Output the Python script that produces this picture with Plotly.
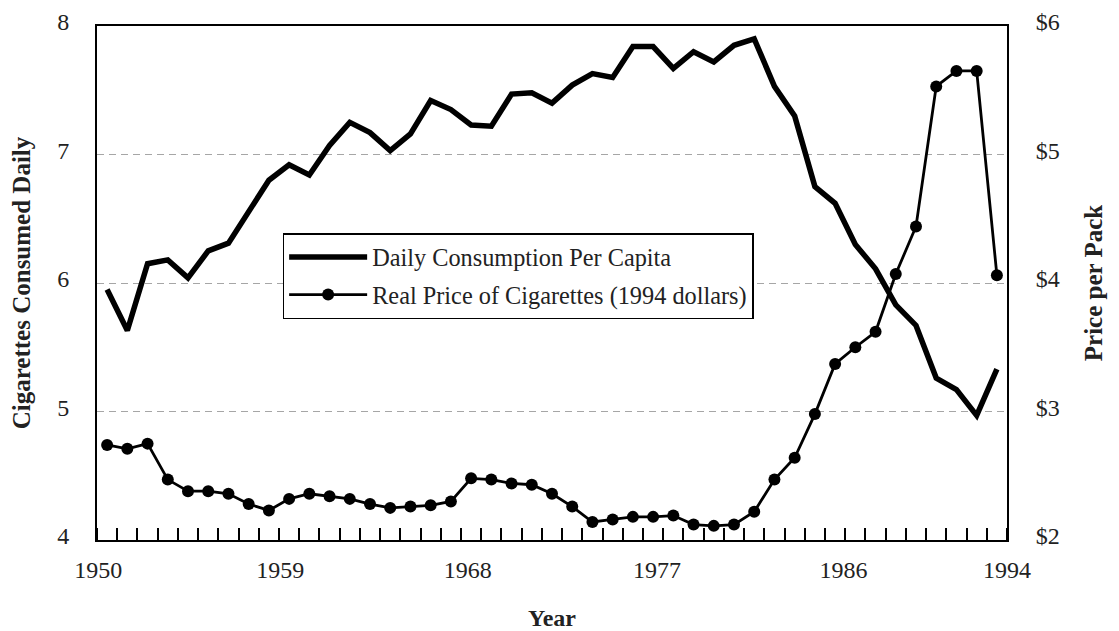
import plotly.graph_objects as go

years = list(range(1950, 1995))

consumption = [5.95, 5.63, 6.15, 6.18, 6.04, 6.25, 6.31, 6.56, 6.80, 6.92,
               6.84, 7.07, 7.25, 7.17, 7.03, 7.16, 7.42, 7.35, 7.23, 7.22,
               7.47, 7.48, 7.40, 7.54, 7.63, 7.60, 7.84, 7.84, 7.67, 7.80,
               7.72, 7.85, 7.90, 7.53, 7.30, 6.75, 6.62, 6.30, 6.11, 5.83,
               5.67, 5.26, 5.17, 4.97, 5.33]

price = [2.74, 2.71, 2.75, 2.47, 2.38, 2.38, 2.36, 2.28, 2.23, 2.32,
         2.36, 2.34, 2.32, 2.28, 2.25, 2.26, 2.27, 2.30, 2.48, 2.47,
         2.44, 2.43, 2.36, 2.26, 2.14, 2.16, 2.18, 2.18, 2.19, 2.12,
         2.11, 2.12, 2.22, 2.47, 2.64, 2.98, 3.37, 3.50, 3.62, 4.07,
         4.44, 5.53, 5.65, 5.65, 4.06]

x_tick_labels = ["1950", "1959", "1968", "1977", "1986", "1994"]
x_tick_pos = [1949.56, 1958.56, 1967.83, 1977.19, 1986.42, 1994.5]

left_ticks = [4, 5, 6, 7, 8]
right_ticks = [2, 3, 4, 5, 6]

FONT = "Liberation Serif, Times New Roman, serif"
TXT = "#222222"

fig = go.Figure()
fig.add_trace(go.Scatter(
    x=years, y=consumption, mode="lines",
    name="Daily Consumption Per Capita",
    line=dict(color="black", width=5.5),
    legendgroup="a", yaxis="y",
))
fig.add_trace(go.Scatter(
    x=years, y=price, mode="lines+markers",
    name="Real Price of Cigarettes (1994 dollars)",
    line=dict(color="black", width=2.8),
    marker=dict(color="black", size=12),
    legendgroup="b", yaxis="y2",
))

# the page body has an 8px margin, so the figure is offset to compensate
fig.update_layout(
    template="none",
    width=1111, height=623,
    margin=dict(l=89, r=112, t=18, b=91, autoexpand=False),
    paper_bgcolor="white", plot_bgcolor="white",
    font=dict(family=FONT, size=24, color=TXT),
    showlegend=True,
    legend=dict(
        x=0.204, y=0.597, xanchor="left", yanchor="top",
        bgcolor="white", bordercolor="black", borderwidth=1.5,
        font=dict(family=FONT, size=24.3, color=TXT),
        traceorder="grouped", tracegroupgap=3, itemwidth=78,
    ),
    xaxis=dict(
        range=[1949.5, 1994.5], automargin=False,
        tickmode="array", tickvals=x_tick_pos, ticktext=x_tick_labels,
        ticks="", ticklabelstandoff=7, ticklabeloverflow="allow",
        showgrid=False, zeroline=False,
        showline=True, linecolor="black", linewidth=2, mirror=True,
        minor=dict(ticks="inside", ticklen=12, tickwidth=2, tickcolor="black",
                   tickmode="linear", tick0=1950.5, dtick=1, showgrid=False),
        title=dict(text="<b>Year</b>", font=dict(family=FONT, size=24, color=TXT), standoff=28),
    ),
    yaxis=dict(
        range=[4, 8], automargin=False, tickmode="array", tickvals=left_ticks,
        ticks="", ticklabelstandoff=21, ticklabelshift=-4, ticklabeloverflow="allow",
        showgrid=True, gridcolor="#a6a6a6", gridwidth=1.3, griddash="7px,5px",
        zeroline=False,
        showline=True, linecolor="black", linewidth=2, mirror=True,
        title=dict(text="<b>Cigarettes Consumed Daily</b>",
                   font=dict(family=FONT, size=25, color=TXT), standoff=27),
    ),
    yaxis2=dict(
        range=[2, 6], automargin=False, overlaying="y", side="right",
        tickmode="array", tickvals=right_ticks,
        ticktext=["$" + str(v) for v in right_ticks],
        ticks="", ticklabelstandoff=22, ticklabelshift=-4, ticklabeloverflow="allow",
        showgrid=False, zeroline=False,
        showline=True, linecolor="black", linewidth=2,
        title=dict(text="<b>Price per Pack</b>",
                   font=dict(family=FONT, size=25, color=TXT), standoff=26),
    ),
)

fig.write_html("out.html")
